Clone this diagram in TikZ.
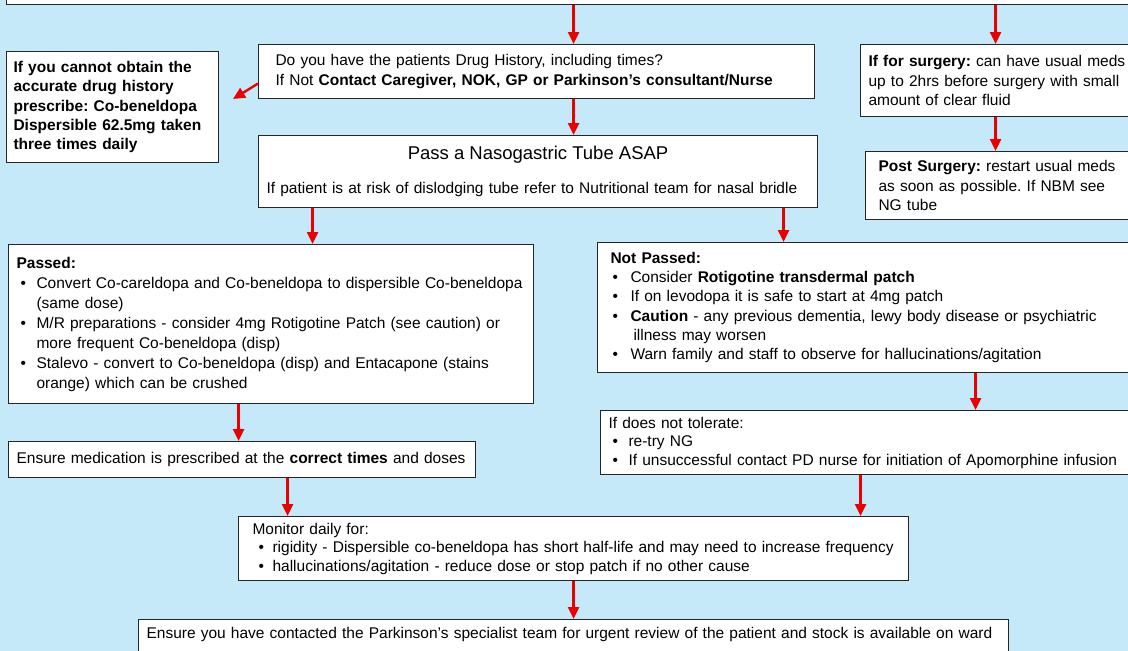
\documentclass[tikz,border=0pt]{standalone}
\usepackage{fontspec}
\setmainfont{Liberation Sans}
\usetikzlibrary{arrows.meta}
\setlength{\parindent}{0pt}
\frenchspacing
\definecolor{skyback}{RGB}{198,233,250}
\definecolor{flowred}{RGB}{235,0,0}
% bullet line with hanging indent
\newcommand{\pitem}[2][4]{\par\hangindent=20pt\hangafter=1\hspace*{#1pt}\makebox[\dimexpr20pt-#1pt\relax][l]{\textbullet}#2}

\begin{document}
\begin{tikzpicture}[x=1pt,y=-1pt,>={Triangle[width=11pt,length=12pt]},
  box/.style={draw=black!85,line width=1.1pt,fill=white,anchor=north west,
    inner xsep=8pt,inner ysep=0pt,execute at begin node={\raggedright\frenchspacing},
    font=\fontsize{15.5}{19.5}\selectfont},
  flow/.style={->,draw=flowred,line width=2.4pt}]
  \fill[skyback] (0,0) rectangle (1128,651);
  \clip (0,0) rectangle (1128,651);

  % boxes
  \node[box,anchor=south west,minimum width=1134pt,minimum height=40pt] (top) at (6,5) {};
  \node[box,text width=198pt,inner xsep=7pt,minimum height=111pt,font=\fontsize{15.5}{19.3}\selectfont\bfseries] (hist) at (6,51)
    {If you cannot obtain the\\accurate drug history\\prescribe: Co-beneldopa\\Dispersible 62.5mg taken\\three times daily};
  \node[box,inner xsep=17pt,text width=522pt,minimum height=54pt] (q) at (258,44)
    {Do you have the patients Drug History, including times?\\If Not \textbf{Contact Caregiver, NOK, GP or Parkinson’s consultant/Nurse}};
  \node[box,text width=543pt,minimum height=72pt] (ng) at (258,135)
    {\makebox[\linewidth]{\fontsize{18.5}{20}\selectfont Pass a Nasogastric Tube ASAP}\\[15pt]If patient is at risk of dislodging tube refer to Nutritional team for nasal bridle};
  \node[box,inner xsep=8pt,text width=264pt,minimum height=72pt] (surg) at (860,44)
    {\textbf{If for surgery:} can have usual meds\\up to 2hrs before surgery with small\\amount of clear fluid};
  \node[box,inner xsep=13pt,text width=249pt,minimum height=68pt] (post) at (865,151)
    {\textbf{Post Surgery:} restart usual meds\\as soon as possible. If NBM see\\NG tube};
  \node[box,text width=509pt,minimum height=159pt,font=\fontsize{15.5}{20}\selectfont] (passed) at (8,244)
    {\textbf{Passed:}
     \pitem{Convert Co-careldopa and Co-beneldopa to dispersible Co-beneldopa\newline(same dose)}
     \pitem{M/R preparations - consider 4mg Rotigotine Patch (see caution) or\newline more frequent Co-beneldopa (disp)}
     \pitem{Stalevo - convert to Co-beneldopa (disp) and Entacapone (stains\newline orange) which can be crushed}\par};
  \node[box,inner xsep=13pt,text width=517pt,minimum height=130pt,font=\fontsize{15.5}{19.2}\selectfont] (notp) at (597,242)
    {\textbf{Not Passed:}
     \pitem[2]{Consider \textbf{Rotigotine transdermal patch}}
     \pitem[2]{If on levodopa it is safe to start at 4mg patch}
     \pitem[2]{\textbf{Caution} - any previous dementia, lewy body disease or psychiatric\newline\hspace*{3pt}illness may worsen}
     \pitem[2]{Warn family and staff to observe for hallucinations/agitation}\par};
  \node[box,text width=524pt,minimum height=64pt,font=\fontsize{15.5}{18.5}\selectfont] (tol) at (600,410)
    {If does not tolerate:
     \pitem{re-try NG}
     \pitem{If unsuccessful contact PD nurse for initiation of Apomorphine infusion}\par};
  \node[box,text width=451pt,minimum height=36pt] (ens) at (8,441)
    {Ensure medication is prescribed at the \textbf{correct times} and doses};
  \node[box,inner xsep=14pt,text width=642pt,minimum height=64pt,font=\fontsize{15.5}{18.5}\selectfont] (mon) at (238,516)
    {Monitor daily for:
     \pitem[6]{rigidity - Dispersible co-beneldopa has short half-life and may need to increase frequency}
     \pitem[6]{hallucinations/agitation - reduce dose or stop patch if no other cause}\par};
  \node[box,text width=854pt,inner ysep=5pt,text height=14pt,text depth=30pt] (fin) at (138,619)
    {Ensure you have contacted the Parkinson’s specialist team for urgent review of the patient and stock is available on ward};

  % arrow start points
  \coordinate (topr) at ([xshift=422pt]top.south);
  \coordinate (qs) at ([xshift=37pt]q.south);
  \coordinate (ngl) at ([xshift=-225.5pt]ng.south);
  \coordinate (ngr) at ([xshift=245.5pt]ng.south);
  \coordinate (surgs) at ([xshift=-5pt]surg.south);
  \coordinate (notps) at ([xshift=106.5pt]notp.south);
  \coordinate (passeds) at ([xshift=-32.5pt]passed.south);
  \coordinate (enss) at ([xshift=45.5pt]ens.south);
  \coordinate (tols) at ([xshift=-10pt]tol.south);
  \coordinate (histtip) at (233,99);

  % connectors
  \draw[flow] (top.south) -- (top.south |- q.north);
  \draw[flow] (topr) -- (topr |- surg.north);
  \draw[flow] ([yshift=-12pt]q.west) -- (histtip);
  \draw[flow] (qs) -- (qs |- ng.north);
  \draw[flow] (surgs) -- (surgs |- post.north);
  \draw[flow] (ngl) -- (ngl |- passed.north);
  \draw[flow] (ngr) -- (ngr |- notp.north);
  \draw[flow] (notps) -- (notps |- tol.north);
  \draw[flow] (passeds) -- (passeds |- ens.north);
  \draw[flow] (enss) -- (enss |- mon.north);
  \draw[flow] (tols) -- (tols |- mon.north);
  \draw[flow] (mon.south) -- (fin.north);
\end{tikzpicture}
\end{document}
